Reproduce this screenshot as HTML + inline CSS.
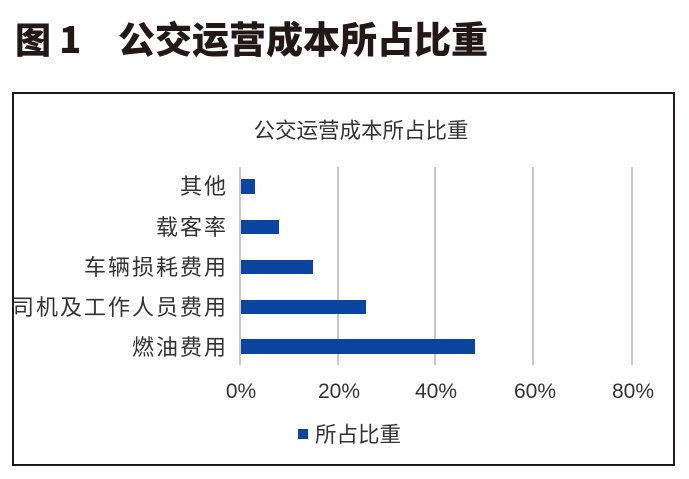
<!DOCTYPE html>
<html><head><meta charset="utf-8"><style>
body{margin:0;background:#fff;width:689px;height:474px;overflow:hidden}
svg text{font-family:"Liberation Sans","Noto Sans CJK SC",sans-serif}
</style></head><body>
<svg width="689" height="474" viewBox="0 0 689 474">
<text x="15" y="53" font-size="36" font-weight="900" fill="#231815" style="font-family:'Noto Sans CJK SC',sans-serif">图 1</text>
<text x="118" y="53" font-size="37" font-weight="900" fill="#231815" style="font-family:'Noto Sans CJK SC',sans-serif">公交运营成本所占比重</text>
<rect x="13" y="93" width="661" height="372" fill="#fff" stroke="#231815" stroke-width="2"/>
<text x="361" y="138" font-size="21.5" fill="#333" text-anchor="middle" style="font-family:'Noto Sans CJK SC',sans-serif">公交运营成本所占比重</text>
<g stroke="#c8c8c8" stroke-width="2">
<line x1="240" y1="167" x2="240" y2="365"/><line x1="338" y1="167" x2="338" y2="365"/><line x1="435" y1="167" x2="435" y2="365"/><line x1="533" y1="167" x2="533" y2="365"/><line x1="632" y1="167" x2="632" y2="365"/>
</g>
<g fill="#0b45a0">
<rect x="241" y="179" width="14" height="15"/>
<rect x="241" y="220" width="38" height="14"/>
<rect x="241" y="260" width="72" height="14"/>
<rect x="241" y="300" width="125" height="14"/>
<rect x="241" y="339" width="234" height="15"/>
</g>
<g font-size="22" fill="#333" text-anchor="end" style="font-family:'Noto Sans CJK SC',sans-serif;letter-spacing:2px">
<text x="228" y="194">其他</text>
<text x="228" y="235">载客率</text>
<text x="228" y="275">车辆损耗费用</text>
<text x="228" y="315">司机及工作人员费用</text>
<text x="228" y="355">燃油费用</text>
</g>
<g font-size="21" fill="#333" text-anchor="middle">
<text x="241" y="398">0%</text><text x="339" y="398">20%</text><text x="436" y="398">40%</text><text x="535" y="398">60%</text><text x="633" y="398">80%</text>
</g>
<rect x="298" y="429" width="10" height="10" fill="#0b45a0"/>
<text x="315" y="442" font-size="21.5" fill="#333" style="font-family:'Noto Sans CJK SC',sans-serif">所占比重</text>
</svg>
</body></html>
